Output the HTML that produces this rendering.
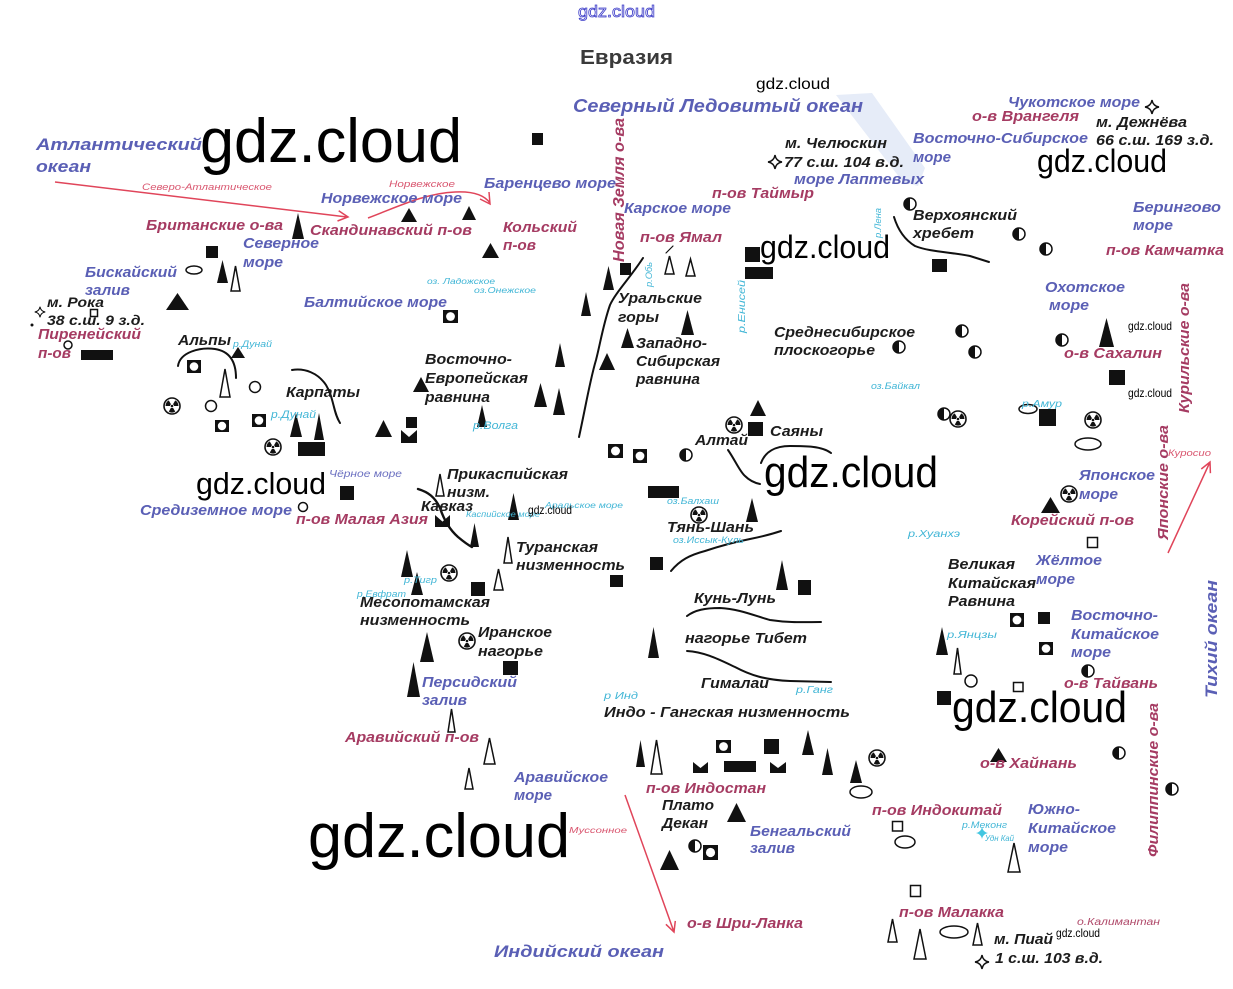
<!DOCTYPE html>
<html><head><meta charset="utf-8"><style>
html,body{margin:0;padding:0;background:#fff;width:1233px;height:989px;overflow:hidden}
svg{display:block}
text{font-family:"Liberation Sans",Arial,sans-serif;font-weight:bold;font-style:italic;font-size:15px}
.b{fill:#5a5fb5}
.r{fill:#a53b62}
.k{fill:#1c1c1c}
.c{fill:#42b6d6;font-size:9px;font-weight:normal}
.s{fill:#d9566f;font-size:9px;font-weight:normal}
.w{font-style:normal;font-weight:normal;fill:#000}
.ln{fill:none;stroke:#111;stroke-width:2;stroke-linecap:round}
.ar{fill:none;stroke:#e0455a;stroke-width:1.5}
.o{fill:#fff;stroke:#111;stroke-width:1.5}
</style></head><body>
<svg width="1233" height="989" viewBox="0 0 1233 989" xmlns="http://www.w3.org/2000/svg">
<defs>
<g id="rad"><circle r="8" fill="#fff" stroke="#111" stroke-width="1.6"/><circle r="1.3" fill="#111"/>
<path fill="#111" d="M2,0 L6.5,0 A6.5,6.5 0 0 0 3.25,-5.63 L1,-1.73 A2,2 0 0 1 2,0 Z M-1,-1.73 L-3.25,-5.63 A6.5,6.5 0 0 0 -6.5,0 L-2,0 A2,2 0 0 1 -1,-1.73 Z M-1,1.73 L-3.25,5.63 A6.5,6.5 0 0 0 3.25,5.63 L1,1.73 A2,2 0 0 1 -1,1.73 Z"/></g>
<g id="half"><circle r="6" fill="#fff" stroke="#111" stroke-width="1.5"/><path d="M0,-6 A6,6 0 0 0 0,6 Z" fill="#111"/></g>
<path id="star" d="M0,-7 Q1,-1 7,0 Q1,1 0,7 Q-1,1 -7,0 Q-1,-1 0,-7 Z" fill="#fff" stroke="#111" stroke-width="1.4"/>
</defs>
<rect width="1233" height="989" fill="#fff"/>
<polygon points="836,95 872,93 925,168 918,186 903,182" fill="#e6ecf8"/>

<!-- mountain lines -->
<path class="ln" d="M178,366 C180,352 200,347 215,349 C228,351 236,360 236,378"/>
<path class="ln" d="M292,370 C305,368 318,373 326,385 C334,398 333,412 340,423"/>
<path class="ln" d="M643,258 C630,278 616,292 610,305 C603,325 600,345 596,360 C590,380 586,405 579,437"/>
<path class="ln" d="M666,253 L673,246" style="stroke-width:1.2"/>
<path class="ln" d="M418,489 C428,492 435,497 440,508 C444,520 450,530 458,537 C464,542 468,545 472,547" style="stroke-width:2.4"/>
<path class="ln" d="M728,450 C735,460 740,472 745,476 C750,481 755,483 760,484"/>
<path class="ln" d="M761,463 C765,452 775,446 790,446 C805,446 822,446 831,453"/>
<path class="ln" d="M671,571 C680,560 690,555 705,551 C720,546 735,542 750,539 C765,536 772,534 781,531"/>
<path class="ln" d="M687,616 C695,610 705,608 720,608 C740,609 755,616 770,620 C790,623 805,622 821,622"/>
<path class="ln" d="M687,651 C705,652 720,660 735,667 C750,675 765,680 790,681 L831,682"/>
<path class="ln" d="M894,217 C898,230 905,240 915,246 C930,252 950,252 970,256 L989,262"/>

<!-- red arrows -->
<path class="ar" d="M55,182 L347,217 M337.5,221 L348,217 L338.7,210.8"/>
<path class="ar" d="M368,218 C395,208 425,193 455,192 C475,191 485,196 490,203 M480,199 L490,204 L489,192"/>
<path class="ar" d="M625,795 L674,932 M665.9,924.3 L674,932 L675.3,920.9"/>
<path class="ar" d="M1168,553 L1210,462 M1210.4,473.2 L1210,462 L1201.3,469"/>

<!-- filled triangles -->
<g fill="#111">
<polygon points="292,239 298,213 304,239"/><polygon points="401,222 409,208 417,222"/><polygon points="462,220 469,206 476,220"/>
<polygon points="482,258 490.5,243 499,258"/><polygon points="217,283 222.5,260 228,283"/><polygon points="166,310 177.5,293 189,310"/>
<polygon points="231,358 238,347 245,358"/><polygon points="290,437 296,413 302,437"/><polygon points="314,440 319,413 324,440"/>
<polygon points="375,437 383.5,420 392,437"/><polygon points="413,392 421,377 429,392"/><polygon points="477,427 482,405 487,427"/>
<polygon points="534,407 540.5,383 547,407"/><polygon points="553,415 559,388 565,415"/><polygon points="555,367 560,343 565,367"/>
<polygon points="599,370 607,353 615,370"/><polygon points="581,316 586,292 591,316"/><polygon points="603,290 608.5,266 614,290"/>
<polygon points="621,348 627.5,328 634,348"/><polygon points="681,335 687.5,310 694,335"/><polygon points="750,416 758,400 766,416"/>
<polygon points="746,522 752,498 758,522"/><polygon points="508,520 513.5,493 519,520"/><polygon points="470,547 474.5,523 479,547"/>
<polygon points="401,577 407,550 413,577"/><polygon points="411,595 417,572 423,595"/><polygon points="776,590 782,560 788,590"/>
<polygon points="648,658 653.5,627 659,658"/><polygon points="420,662 427,632 434,662"/><polygon points="407,697 413.5,662 420,697"/>
<polygon points="636,767 640.5,740 645,767"/><polygon points="802,755 808,730 814,755"/><polygon points="822,775 827.5,748 833,775"/>
<polygon points="850,783 856,760 862,783"/><polygon points="727,822 736.5,803 746,822"/><polygon points="660,870 669.5,850 679,870"/>
<polygon points="936,655 942,627 948,655"/><polygon points="990,762 998.5,748 1007,762"/><polygon points="1041,513 1050.5,497 1060,513"/>
<polygon points="1099,347 1106.5,318 1114,347"/>
</g>
<!-- outline triangles -->
<g class="o">
<polygon points="231,291 235.5,266 240,291"/><polygon points="220,397 225,369 230,397"/><polygon points="436,496 440,474 444,496"/>
<polygon points="504,563 508,537 512,563"/><polygon points="494,590 498.5,569 503,590"/><polygon points="448,732 451.5,709 455,732"/>
<polygon points="484,764 489.5,738 495,764"/><polygon points="465,789 469,768 473,789"/><polygon points="651,774 656.5,740 662,774"/>
<polygon points="665,274 669.5,256 674,274"/><polygon points="686,276 690.5,259 695,276"/><polygon points="954,674 957.5,648 961,674"/>
<polygon points="1008,872 1014,843 1020,872"/><polygon points="888,942 892.5,919 897,942"/><polygon points="914,959 920,929 926,959"/>
<polygon points="973,945 977.5,923 982,945"/>
</g>
<!-- squares and rects -->
<g fill="#111">
<rect x="532" y="133" width="11" height="12"/><rect x="206" y="246" width="12" height="12"/><rect x="406" y="417" width="11" height="11"/>
<rect x="340" y="486" width="14" height="14"/><rect x="471" y="582" width="14" height="14"/><rect x="610" y="575" width="13" height="12"/>
<rect x="650" y="557" width="13" height="13"/><rect x="798" y="580" width="13" height="15"/><rect x="748" y="422" width="15" height="14"/>
<rect x="620" y="263" width="11" height="12"/><rect x="745" y="247" width="15" height="15"/><rect x="932" y="259" width="15" height="13"/>
<rect x="1109" y="370" width="16" height="15"/><rect x="1039" y="409" width="17" height="17"/><rect x="1038" y="612" width="12" height="12"/>
<rect x="937" y="691" width="14" height="14"/><rect x="503" y="661" width="15" height="14"/><rect x="764" y="739" width="15" height="15"/>
<rect x="81" y="350" width="32" height="10"/><rect x="298" y="442" width="27" height="14"/><rect x="648" y="486" width="31" height="12"/>
<rect x="745" y="267" width="28" height="12"/><rect x="724" y="761" width="32" height="11"/>
<polygon points="401,430 409,437 417,430 417,443 401,443"/><polygon points="435,515 442.5,521.6 450,515 450,527 435,527"/>
<polygon points="693,762 700.5,768 708,762 708,773 693,773"/><polygon points="770,762 778,768 786,762 786,773 770,773"/>
</g>
<!-- square with circle -->
<g>
<rect x="187" y="360" width="14" height="13" fill="#111"/><circle cx="194" cy="366.5" r="4.3" fill="#fff"/>
<rect x="215" y="420" width="14" height="12" fill="#111"/><circle cx="222" cy="426" r="4.2" fill="#fff"/>
<rect x="252" y="414" width="14" height="13" fill="#111"/><circle cx="259" cy="420.5" r="4.3" fill="#fff"/>
<rect x="443" y="310" width="15" height="13" fill="#111"/><circle cx="450.5" cy="316.5" r="4.4" fill="#fff"/>
<rect x="608" y="444" width="15" height="14" fill="#111"/><circle cx="615.5" cy="451" r="4.5" fill="#fff"/>
<rect x="633" y="449" width="14" height="14" fill="#111"/><circle cx="640" cy="456" r="4.4" fill="#fff"/>
<rect x="1010" y="613" width="14" height="14" fill="#111"/><circle cx="1017" cy="620" r="4.4" fill="#fff"/>
<rect x="1039" y="642" width="14" height="13" fill="#111"/><circle cx="1046" cy="648.5" r="4.3" fill="#fff"/>
<rect x="716" y="740" width="15" height="13" fill="#111"/><circle cx="723.5" cy="746.5" r="4.4" fill="#fff"/>
<rect x="703" y="845" width="15" height="15" fill="#111"/><circle cx="710.5" cy="852.5" r="4.6" fill="#fff"/>
</g>
<!-- outline squares, circles, ellipses -->
<g class="o">
<rect x="90.5" y="309.5" width="7" height="7"/><rect x="1087.5" y="537.5" width="10" height="10"/><rect x="1013.5" y="682.5" width="9.5" height="9"/>
<rect x="892.5" y="821.5" width="10" height="9.5"/><rect x="910.5" y="885.5" width="10" height="11"/>
<circle cx="68" cy="345" r="4"/><circle cx="255" cy="387" r="5.5"/><circle cx="211" cy="406" r="5.5"/><circle cx="303" cy="507" r="4.5"/><circle cx="971" cy="681" r="6"/>
<ellipse cx="194" cy="270" rx="8" ry="4"/><ellipse cx="1028" cy="409" rx="9" ry="4.5"/><ellipse cx="1088" cy="444" rx="13" ry="6"/>
<ellipse cx="861" cy="792" rx="11" ry="6"/><ellipse cx="905" cy="842" rx="10" ry="6"/><ellipse cx="954" cy="932" rx="14" ry="6"/>
</g>
<circle cx="32" cy="325" r="1.5" fill="#111"/>
<!-- half circles -->
<use href="#half" x="910" y="204"/><use href="#half" x="1019" y="234"/><use href="#half" x="1046" y="249"/>
<use href="#half" x="962" y="331"/><use href="#half" x="899" y="347"/><use href="#half" x="975" y="352"/>
<use href="#half" x="1062" y="340"/><use href="#half" x="944" y="414"/><use href="#half" x="686" y="455"/>
<use href="#half" x="1088" y="671"/><use href="#half" x="1119" y="753"/><use href="#half" x="1172" y="789"/>
<use href="#half" x="695" y="846"/>
<!-- radiation -->
<use href="#rad" x="172" y="406"/><use href="#rad" x="273" y="447"/><use href="#rad" x="449" y="573"/>
<use href="#rad" x="467" y="641"/><use href="#rad" x="734" y="425"/><use href="#rad" x="699" y="515"/>
<use href="#rad" x="958" y="419"/><use href="#rad" x="1093" y="420"/><use href="#rad" x="1069" y="494"/>
<use href="#rad" x="877" y="758"/>
<!-- stars -->
<use href="#star" x="40" y="312" transform="translate(40 312) scale(0.75) translate(-40 -312)"/>
<use href="#star" x="775" y="162"/><use href="#star" x="1152" y="107"/><use href="#star" x="982" y="962"/>
<path d="M982,827 Q983,832 988,833 Q983,834 982,839 Q981,834 976,833 Q981,832 982,827 Z" fill="#42c6e0"/>

<!-- top -->
<text x="578" y="17" class="w" style="font-size:17px;fill:#fff;stroke:#3c3cc8;stroke-width:0.8" textLength="77" lengthAdjust="spacingAndGlyphs">gdz.cloud</text>
<text x="580" y="64" style="font-size:20px;font-style:normal;fill:#3a3a3a" textLength="93" lengthAdjust="spacingAndGlyphs">Евразия</text>
<text x="756" y="89" class="w" style="font-size:16px" textLength="74" lengthAdjust="spacingAndGlyphs">gdz.cloud</text>
<text x="573" y="112" class="b" style="font-size:18px" textLength="290" lengthAdjust="spacingAndGlyphs">Северный Ледовитый океан</text>

<g>
<text x="36" y="150" class="b" style="font-size:17px" textLength="166" lengthAdjust="spacingAndGlyphs">Атлантический</text>
<text x="36" y="172" class="b" style="font-size:17px" textLength="55" lengthAdjust="spacingAndGlyphs">океан</text>
<text x="200" y="162" class="w" style="font-size:62px" textLength="262" lengthAdjust="spacingAndGlyphs">gdz.cloud</text>
<text x="142" y="190" class="s" textLength="130" lengthAdjust="spacingAndGlyphs">Северо-Атлантическое</text>
<text x="389" y="187" class="s" textLength="66" lengthAdjust="spacingAndGlyphs">Норвежское</text>
<text x="484" y="188" class="b" textLength="132" lengthAdjust="spacingAndGlyphs">Баренцево море</text>
<text x="321" y="203" class="b" textLength="141" lengthAdjust="spacingAndGlyphs">Норвежское море</text>
<text x="146" y="230" class="r" textLength="137" lengthAdjust="spacingAndGlyphs">Британские о-ва</text>
<text x="310" y="235" class="r" textLength="162" lengthAdjust="spacingAndGlyphs">Скандинавский п-ов</text>
<text x="503" y="232" class="r" textLength="74" lengthAdjust="spacingAndGlyphs">Кольский</text>
<text x="503" y="250" class="r" textLength="33" lengthAdjust="spacingAndGlyphs">п-ов</text>
<text x="243" y="248" class="b" textLength="76" lengthAdjust="spacingAndGlyphs">Северное</text>
<text x="243" y="267" class="b" textLength="40" lengthAdjust="spacingAndGlyphs">море</text>
<text x="85" y="277" class="b" textLength="92" lengthAdjust="spacingAndGlyphs">Бискайский</text>
<text x="85" y="295" class="b" textLength="45" lengthAdjust="spacingAndGlyphs">залив</text>
<text x="47" y="307" class="k" style="font-size:14px" textLength="57" lengthAdjust="spacingAndGlyphs">м. Рока</text>
<text x="47" y="325" class="k" style="font-size:14px" textLength="98" lengthAdjust="spacingAndGlyphs">38 с.ш. 9 з.д.</text>
<text x="38" y="339" class="r" textLength="103" lengthAdjust="spacingAndGlyphs">Пиренейский</text>
<text x="38" y="358" class="r" textLength="33" lengthAdjust="spacingAndGlyphs">п-ов</text>
<text x="304" y="307" class="b" textLength="143" lengthAdjust="spacingAndGlyphs">Балтийское море</text>
<text x="427" y="284" class="c" style="font-size:8px" textLength="68" lengthAdjust="spacingAndGlyphs">оз. Ладожское</text>
<text x="474" y="293" class="c" style="font-size:8px" textLength="62" lengthAdjust="spacingAndGlyphs">оз.Онежское</text>
<text x="178" y="345" class="k" textLength="53" lengthAdjust="spacingAndGlyphs">Альпы</text>
<text x="233" y="347" class="c" textLength="39" lengthAdjust="spacingAndGlyphs">р.Дунай</text>
<text x="286" y="397" class="k" textLength="74" lengthAdjust="spacingAndGlyphs">Карпаты</text>
<text x="271" y="418" class="c" style="font-size:11px" textLength="45" lengthAdjust="spacingAndGlyphs">р.Дунай</text>
<text x="425" y="364" class="k" textLength="87" lengthAdjust="spacingAndGlyphs">Восточно-</text>
<text x="425" y="383" class="k" textLength="103" lengthAdjust="spacingAndGlyphs">Европейская</text>
<text x="425" y="402" class="k" textLength="65" lengthAdjust="spacingAndGlyphs">равнина</text>
<text x="473" y="429" class="c" style="font-size:11px" textLength="45" lengthAdjust="spacingAndGlyphs">р.Волга</text>
<text x="329" y="477" style="font-size:10px;font-weight:normal;fill:#6a6fc0" textLength="73" lengthAdjust="spacingAndGlyphs">Чёрное море</text>
<text x="196" y="494" class="w" style="font-size:31px" textLength="130" lengthAdjust="spacingAndGlyphs">gdz.cloud</text>
<text x="140" y="515" class="b" textLength="152" lengthAdjust="spacingAndGlyphs">Средиземное море</text>
<text x="296" y="524" class="r" textLength="132" lengthAdjust="spacingAndGlyphs">п-ов Малая Азия</text>
<text x="447" y="479" class="k" textLength="121" lengthAdjust="spacingAndGlyphs">Прикаспийская</text>
<text x="447" y="497" class="k" textLength="43" lengthAdjust="spacingAndGlyphs">низм.</text>
<text x="421" y="511" class="k" textLength="52" lengthAdjust="spacingAndGlyphs">Кавказ</text>
<text x="466" y="517" class="c" style="font-size:8px" textLength="74" lengthAdjust="spacingAndGlyphs">Каспийское море</text>
<text x="545" y="508" class="c" style="font-size:8px" textLength="78" lengthAdjust="spacingAndGlyphs">Аральское море</text>
<text x="528" y="514" class="w" style="font-size:12px" textLength="44" lengthAdjust="spacingAndGlyphs">gdz.cloud</text>
<text x="516" y="552" class="k" textLength="82" lengthAdjust="spacingAndGlyphs">Туранская</text>
<text x="516" y="570" class="k" textLength="109" lengthAdjust="spacingAndGlyphs">низменность</text>
<text x="404" y="583" class="c" textLength="33" lengthAdjust="spacingAndGlyphs">р.Тигр</text>
<text x="357" y="597" class="c" textLength="49" lengthAdjust="spacingAndGlyphs">р.Евфрат</text>
<text x="360" y="607" class="k" textLength="130" lengthAdjust="spacingAndGlyphs">Месопотамская</text>
<text x="360" y="625" class="k" textLength="110" lengthAdjust="spacingAndGlyphs">низменность</text>
<text x="478" y="637" class="k" textLength="74" lengthAdjust="spacingAndGlyphs">Иранское</text>
<text x="478" y="656" class="k" textLength="65" lengthAdjust="spacingAndGlyphs">нагорье</text>
<text x="422" y="687" class="b" textLength="95" lengthAdjust="spacingAndGlyphs">Персидский</text>
<text x="422" y="705" class="b" textLength="45" lengthAdjust="spacingAndGlyphs">залив</text>
<text x="345" y="742" class="r" textLength="134" lengthAdjust="spacingAndGlyphs">Аравийский п-ов</text>
<text x="514" y="782" class="b" textLength="94" lengthAdjust="spacingAndGlyphs">Аравийское</text>
<text x="514" y="800" class="b" textLength="38" lengthAdjust="spacingAndGlyphs">море</text>
<text x="308" y="857" class="w" style="font-size:62px" textLength="262" lengthAdjust="spacingAndGlyphs">gdz.cloud</text>
<text x="569" y="833" class="s" style="font-size:8px" textLength="58" lengthAdjust="spacingAndGlyphs">Муссонное</text>
<text x="494" y="957" class="b" style="font-size:17px" textLength="170" lengthAdjust="spacingAndGlyphs">Индийский океан</text>
<text x="687" y="928" class="r" textLength="116" lengthAdjust="spacingAndGlyphs">о-в Шри-Ланка</text>
<text x="646" y="793" class="r" textLength="120" lengthAdjust="spacingAndGlyphs">п-ов Индостан</text>
<text x="662" y="810" class="k" textLength="52" lengthAdjust="spacingAndGlyphs">Плато</text>
<text x="662" y="828" class="k" textLength="46" lengthAdjust="spacingAndGlyphs">Декан</text>
<text x="750" y="836" class="b" textLength="101" lengthAdjust="spacingAndGlyphs">Бенгальский</text>
<text x="750" y="853" class="b" textLength="45" lengthAdjust="spacingAndGlyphs">залив</text>
<text x="604" y="699" class="c" style="font-size:10px" textLength="34" lengthAdjust="spacingAndGlyphs">р Инд</text>
<text x="604" y="717" class="k" textLength="246" lengthAdjust="spacingAndGlyphs">Индо  -  Гангская низменность</text>
<text x="701" y="688" class="k" textLength="68" lengthAdjust="spacingAndGlyphs">Гималаи</text>
<text x="796" y="693" class="c" style="font-size:10px" textLength="37" lengthAdjust="spacingAndGlyphs">р.Ганг</text>
<text x="685" y="643" class="k" textLength="122" lengthAdjust="spacingAndGlyphs">нагорье Тибет</text>
<text x="694" y="603" class="k" textLength="82" lengthAdjust="spacingAndGlyphs">Кунь-Лунь</text>
<text x="667" y="532" class="k" textLength="87" lengthAdjust="spacingAndGlyphs">Тянь-Шань</text>
<text x="667" y="504" class="c" textLength="52" lengthAdjust="spacingAndGlyphs">оз.Балхаш</text>
<text x="673" y="543" class="c" textLength="71" lengthAdjust="spacingAndGlyphs">оз.Иссык-Куль</text>
<text x="695" y="445" class="k" textLength="53" lengthAdjust="spacingAndGlyphs">Алтай</text>
<text x="770" y="436" class="k" textLength="53" lengthAdjust="spacingAndGlyphs">Саяны</text>
<text x="764" y="487" class="w" style="font-size:44px" textLength="174" lengthAdjust="spacingAndGlyphs">gdz.cloud</text>
<text x="636" y="348" class="k" textLength="71" lengthAdjust="spacingAndGlyphs">Западно-</text>
<text x="636" y="366" class="k" textLength="84" lengthAdjust="spacingAndGlyphs">Сибирская</text>
<text x="636" y="384" class="k" textLength="64" lengthAdjust="spacingAndGlyphs">равнина</text>
<text x="618" y="303" class="k" textLength="84" lengthAdjust="spacingAndGlyphs">Уральские</text>
<text x="618" y="322" class="k" textLength="41" lengthAdjust="spacingAndGlyphs">горы</text>
<text x="640" y="242" class="r" textLength="82" lengthAdjust="spacingAndGlyphs">п-ов Ямал</text>
<text x="624" y="213" class="b" textLength="107" lengthAdjust="spacingAndGlyphs">Карское море</text>
<text x="712" y="198" class="r" textLength="102" lengthAdjust="spacingAndGlyphs">п-ов Таймыр</text>
<text x="785" y="148" class="k" textLength="102" lengthAdjust="spacingAndGlyphs">м. Челюскин</text>
<text x="784" y="167" class="k" textLength="120" lengthAdjust="spacingAndGlyphs">77 с.ш. 104 в.д.</text>
<text x="794" y="184" class="b" textLength="130" lengthAdjust="spacingAndGlyphs">море Лаптевых</text>
<text x="913" y="143" class="b" textLength="175" lengthAdjust="spacingAndGlyphs">Восточно-Сибирское</text>
<text x="913" y="162" class="b" textLength="38" lengthAdjust="spacingAndGlyphs">море</text>
<text x="1008" y="107" class="b" textLength="132" lengthAdjust="spacingAndGlyphs">Чукотское море</text>
<text x="972" y="121" class="r" textLength="107" lengthAdjust="spacingAndGlyphs">о-в Врангеля</text>
<text x="1096" y="127" class="k" textLength="91" lengthAdjust="spacingAndGlyphs">м. Дежнёва</text>
<text x="1096" y="145" class="k" textLength="118" lengthAdjust="spacingAndGlyphs">66 с.ш. 169 з.д.</text>
<text x="1037" y="172" class="w" style="font-size:32px" textLength="130" lengthAdjust="spacingAndGlyphs">gdz.cloud</text>
<text x="913" y="220" class="k" textLength="104" lengthAdjust="spacingAndGlyphs">Верхоянский</text>
<text x="913" y="238" class="k" textLength="61" lengthAdjust="spacingAndGlyphs">хребет</text>
<text x="1133" y="212" class="b" textLength="88" lengthAdjust="spacingAndGlyphs">Берингово</text>
<text x="1133" y="230" class="b" textLength="40" lengthAdjust="spacingAndGlyphs">море</text>
<text x="1106" y="255" class="r" textLength="118" lengthAdjust="spacingAndGlyphs">п-ов Камчатка</text>
<text x="760" y="258" class="w" style="font-size:32px" textLength="130" lengthAdjust="spacingAndGlyphs">gdz.cloud</text>
<text x="774" y="337" class="k" textLength="141" lengthAdjust="spacingAndGlyphs">Среднесибирское</text>
<text x="774" y="355" class="k" textLength="101" lengthAdjust="spacingAndGlyphs">плоскогорье</text>
<text x="1045" y="292" class="b" textLength="80" lengthAdjust="spacingAndGlyphs">Охотское</text>
<text x="1049" y="310" class="b" textLength="40" lengthAdjust="spacingAndGlyphs">море</text>
<text x="1128" y="330" class="w" style="font-size:12px" textLength="44" lengthAdjust="spacingAndGlyphs">gdz.cloud</text>
<text x="1128" y="397" class="w" style="font-size:12px" textLength="44" lengthAdjust="spacingAndGlyphs">gdz.cloud</text>
<text x="1064" y="358" class="r" textLength="98" lengthAdjust="spacingAndGlyphs">о-в Сахалин</text>
<text x="871" y="389" class="c" textLength="49" lengthAdjust="spacingAndGlyphs">оз.Байкал</text>
<text x="1022" y="407" class="c" style="font-size:10px" textLength="40" lengthAdjust="spacingAndGlyphs">р.Амур</text>
<text x="1168" y="456" class="s" textLength="43" lengthAdjust="spacingAndGlyphs">Куросио</text>
<text x="1079" y="480" class="b" textLength="76" lengthAdjust="spacingAndGlyphs">Японское</text>
<text x="1079" y="499" class="b" textLength="39" lengthAdjust="spacingAndGlyphs">море</text>
<text x="1011" y="525" class="r" textLength="123" lengthAdjust="spacingAndGlyphs">Корейский п-ов</text>
<text x="908" y="537" class="c" style="font-size:10px" textLength="52" lengthAdjust="spacingAndGlyphs">р.Хуанхэ</text>
<text x="948" y="569" class="k" textLength="67" lengthAdjust="spacingAndGlyphs">Великая</text>
<text x="948" y="588" class="k" textLength="88" lengthAdjust="spacingAndGlyphs">Китайская</text>
<text x="948" y="606" class="k" textLength="67" lengthAdjust="spacingAndGlyphs">Равнина</text>
<text x="1036" y="565" class="b" textLength="66" lengthAdjust="spacingAndGlyphs">Жёлтое</text>
<text x="1036" y="584" class="b" textLength="39" lengthAdjust="spacingAndGlyphs">море</text>
<text x="1071" y="620" class="b" textLength="87" lengthAdjust="spacingAndGlyphs">Восточно-</text>
<text x="1071" y="639" class="b" textLength="88" lengthAdjust="spacingAndGlyphs">Китайское</text>
<text x="1071" y="657" class="b" textLength="40" lengthAdjust="spacingAndGlyphs">море</text>
<text x="947" y="638" class="c" style="font-size:10px" textLength="50" lengthAdjust="spacingAndGlyphs">р.Янцзы</text>
<text x="1064" y="688" class="r" textLength="94" lengthAdjust="spacingAndGlyphs">о-в Тайвань</text>
<text x="952" y="722" class="w" style="font-size:44px" textLength="175" lengthAdjust="spacingAndGlyphs">gdz.cloud</text>
<text x="980" y="768" class="r" textLength="97" lengthAdjust="spacingAndGlyphs">о-в Хайнань</text>
<text x="872" y="815" class="r" textLength="130" lengthAdjust="spacingAndGlyphs">п-ов Индокитай</text>
<text x="1028" y="814" class="b" textLength="52" lengthAdjust="spacingAndGlyphs">Южно-</text>
<text x="1028" y="833" class="b" textLength="88" lengthAdjust="spacingAndGlyphs">Китайское</text>
<text x="1028" y="852" class="b" textLength="40" lengthAdjust="spacingAndGlyphs">море</text>
<text x="962" y="828" class="c" textLength="45" lengthAdjust="spacingAndGlyphs">р.Меконг</text>
<text x="985" y="841" class="c" style="font-size:8px" textLength="29" lengthAdjust="spacingAndGlyphs">Удн Кай</text>
<text x="899" y="917" class="r" textLength="105" lengthAdjust="spacingAndGlyphs">п-ов Малакка</text>
<text x="1077" y="925" style="font-size:10px;font-weight:normal;fill:#b04a6a" textLength="83" lengthAdjust="spacingAndGlyphs">о.Калимантан</text>
<text x="994" y="944" class="k" textLength="59" lengthAdjust="spacingAndGlyphs">м. Пиай</text>
<text x="1056" y="937" class="w" style="font-size:12px" textLength="44" lengthAdjust="spacingAndGlyphs">gdz.cloud</text>
<text x="995" y="963" class="k" textLength="108" lengthAdjust="spacingAndGlyphs">1 с.ш. 103 в.д.</text>
</g>

<!-- vertical texts -->
<text x="624" y="262" class="r" style="font-size:16px" transform="rotate(-90 624 262)" textLength="144" lengthAdjust="spacingAndGlyphs">Новая Земля о-ва</text>
<text x="652" y="287" class="c" transform="rotate(-90 652 287)" textLength="25" lengthAdjust="spacingAndGlyphs">р.Обь</text>
<text x="745" y="333" class="c" style="font-size:10px" transform="rotate(-90 745 333)" textLength="53" lengthAdjust="spacingAndGlyphs">р.Енисей</text>
<text x="881" y="238" class="c" transform="rotate(-90 881 238)" textLength="30" lengthAdjust="spacingAndGlyphs">р.Лена</text>
<text x="1189" y="413" class="r" transform="rotate(-90 1189 413)" textLength="130" lengthAdjust="spacingAndGlyphs">Курильские о-ва</text>
<text x="1168" y="540" class="r" transform="rotate(-90 1168 540)" textLength="115" lengthAdjust="spacingAndGlyphs">Японские о-ва</text>
<text x="1217" y="698" class="b" style="font-size:17px" transform="rotate(-90 1217 698)" textLength="118" lengthAdjust="spacingAndGlyphs">Тихий океан</text>
<text x="1158" y="857" class="r" transform="rotate(-90 1158 857)" textLength="154" lengthAdjust="spacingAndGlyphs">Филиппинские о-ва</text>
</svg>
</body></html>
